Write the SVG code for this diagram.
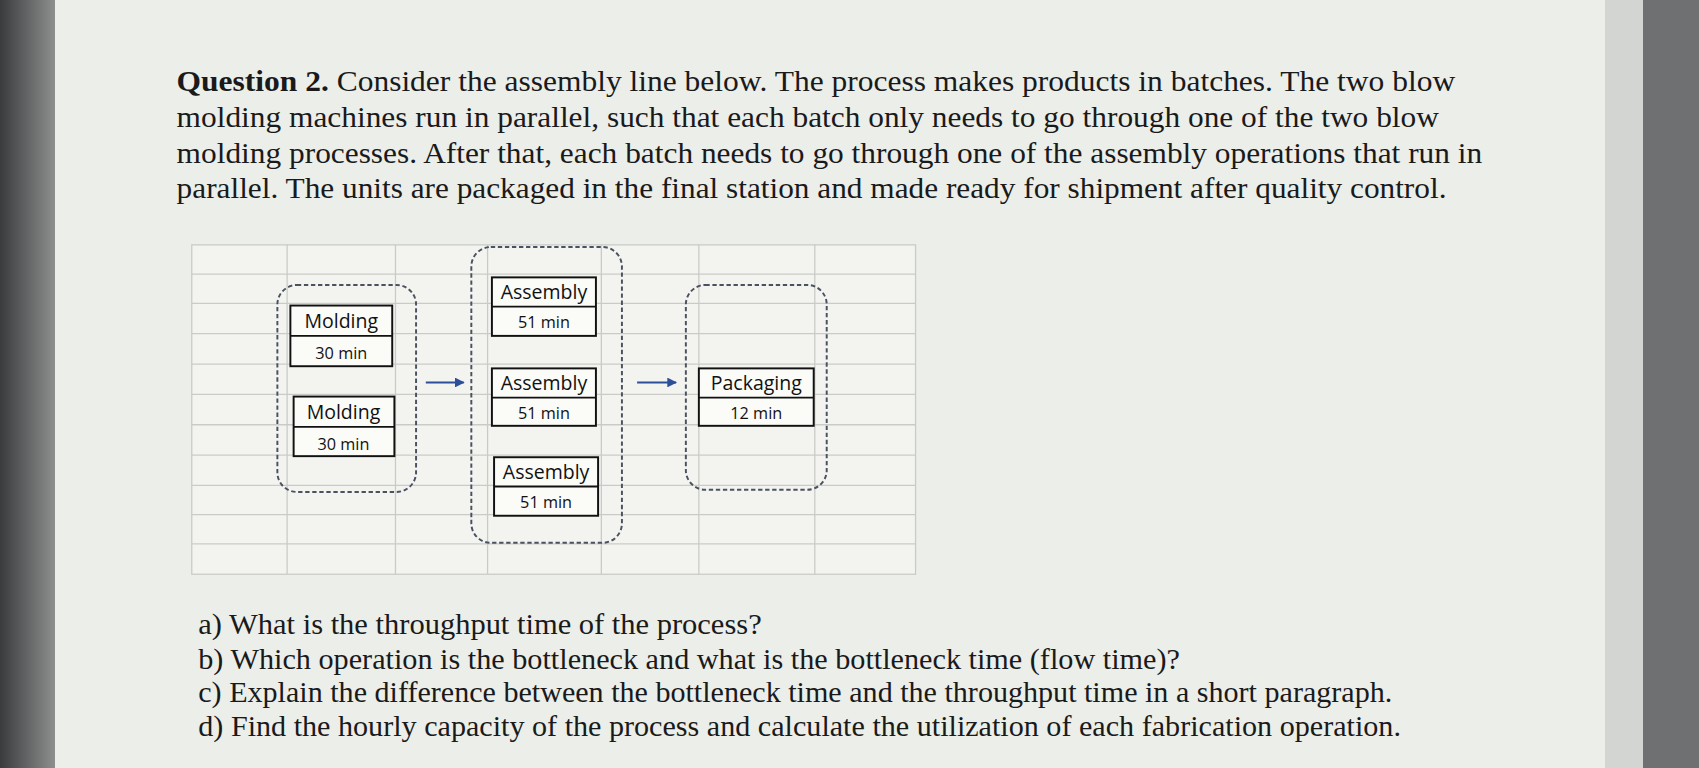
<svg xmlns="http://www.w3.org/2000/svg" width="1699" height="768" viewBox="0 0 1699 768">
<defs>
<style>
.q{font-family:"Liberation Serif",serif;font-size:28px;fill:#1a1a1a}
.b{font-family:"Open Sans","Liberation Sans",sans-serif;font-size:18px;fill:#111;text-anchor:middle}
.s{font-size:15px}
.g{stroke:#c9ccc6;stroke-width:1.2}
.c{fill:none;stroke:#4a5160;stroke-width:1.8;stroke-dasharray:4 2.5}
.n{fill:#fbfbf8;stroke:#111;stroke-width:1.8}
.a{stroke:#2b4f9a;stroke-width:1.8}
</style>
<marker id="ah" markerWidth="5" markerHeight="5" refX="4.5" refY="2.5" orient="auto"><path d="M0,0 L5,2.5 L0,5 z" fill="#2b4f9a"/></marker>
<linearGradient id="lg" x1="0" x2="1"><stop offset="0" stop-color="#3a3b3d"/><stop offset="1" stop-color="#8d8f8e"/></linearGradient>
</defs>
<rect width="1699" height="768" fill="#eceeea"/>
<rect width="55" height="768" fill="url(#lg)"/>
<rect x="1640" width="59" height="768" fill="#6e7072"/>
<rect x="1605" width="38" height="768" fill="#d3d5d2"/>
<g transform="scale(1.0835)">
<text class="q" x="163" y="84" textLength="1180" lengthAdjust="spacingAndGlyphs"><tspan font-weight="bold">Question 2.</tspan> Consider the assembly line below. The process makes products in batches. The two blow</text>
<text class="q" x="163" y="117" textLength="1165" lengthAdjust="spacingAndGlyphs">molding machines run in parallel, such that each batch only needs to go through one of the two blow</text>
<text class="q" x="163" y="150" textLength="1205" lengthAdjust="spacingAndGlyphs">molding processes. After that, each batch needs to go through one of the assembly operations that run in</text>
<text class="q" x="163" y="183" textLength="1172" lengthAdjust="spacingAndGlyphs">parallel. The units are packaged in the final station and made ready for shipment after quality control.</text>
<text class="q" x="183" y="585" textLength="520" lengthAdjust="spacingAndGlyphs">a) What is the throughput time of the process?</text>
<text class="q" x="183" y="617" textLength="906" lengthAdjust="spacingAndGlyphs">b) Which operation is the bottleneck and what is the bottleneck time (flow time)?</text>
<text class="q" x="183" y="648" textLength="1102" lengthAdjust="spacingAndGlyphs">c) Explain the difference between the bottleneck time and the throughput time in a short paragraph.</text>
<text class="q" x="183" y="679" textLength="1110" lengthAdjust="spacingAndGlyphs">d) Find the hourly capacity of the process and calculate the utilization of each fabrication operation.</text>
<g id="grid">
<rect x="177" y="226" width="668" height="304" fill="#f3f4f0" class="g"/>
<path class="g" d="M265,226V530M365,226V530M450,226V530M555,226V530M645,226V530M752,226V530M177,253H845M177,280H845M177,308H845M177,336H845M177,364H845M177,392H845M177,420H845M177,448H845M177,475H845M177,502H845"/>
</g>
<g id="connectors">
<line class="a" x1="393" y1="353" x2="428" y2="353" marker-end="url(#ah)"/>
<line class="a" x1="588" y1="353" x2="624" y2="353" marker-end="url(#ah)"/>
</g>
<g id="molding-group"><rect class="c" x="256" y="263" width="128" height="191" rx="18"/></g>
<g id="assembly-group"><rect class="c" x="435" y="228" width="139" height="273" rx="18"/></g>
<g id="packaging-group"><rect class="c" x="633" y="263" width="130" height="189" rx="18"/></g>
<g id="molding1"><rect class="n" x="268" y="282" width="94" height="56"/><line class="n" x1="268" y1="310" x2="362" y2="310"/><text class="b" x="315" y="303">Molding</text><text class="b s" x="315" y="331">30 min</text></g>
<g id="molding2"><rect class="n" x="271" y="366" width="93" height="55"/><line class="n" x1="271" y1="394" x2="364" y2="394"/><text class="b" x="317" y="387">Molding</text><text class="b s" x="317" y="415">30 min</text></g>
<g id="assembly1"><rect class="n" x="454" y="256" width="96" height="54"/><line class="n" x1="454" y1="283" x2="550" y2="283"/><text class="b" x="502" y="276">Assembly</text><text class="b s" x="502" y="303">51 min</text></g>
<g id="assembly2"><rect class="n" x="454" y="340" width="96" height="53"/><line class="n" x1="454" y1="367" x2="550" y2="367"/><text class="b" x="502" y="360">Assembly</text><text class="b s" x="502" y="387">51 min</text></g>
<g id="assembly3"><rect class="n" x="456" y="422" width="96" height="54"/><line class="n" x1="456" y1="449" x2="552" y2="449"/><text class="b" x="504" y="442">Assembly</text><text class="b s" x="504" y="469">51 min</text></g>
<g id="packaging"><rect class="n" x="645" y="340" width="106" height="53"/><line class="n" x1="645" y1="367" x2="751" y2="367"/><text class="b" x="698" y="360">Packaging</text><text class="b s" x="698" y="387">12 min</text></g>
</g>
</svg>
